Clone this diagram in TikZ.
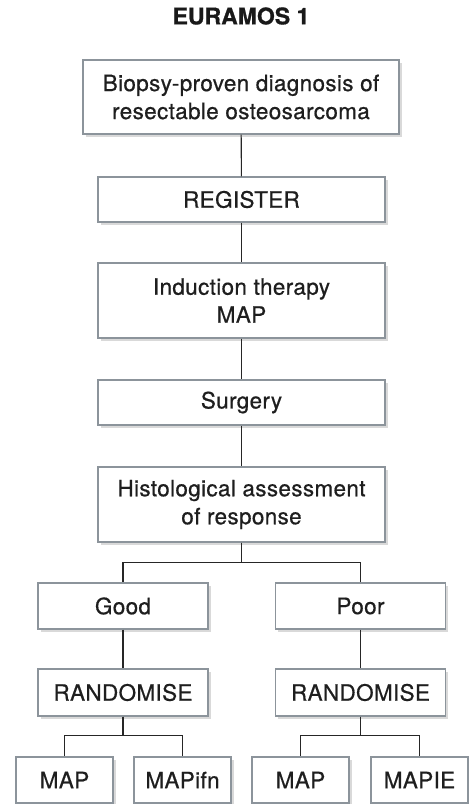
\documentclass[tikz,border=0pt]{standalone}
\usepackage{fontspec}
\setmainfont{TeX Gyre Heros}
\newfontfamily\boxfont[LetterSpace=1.5, FakeBold=0.6]{TeX Gyre Heros}
\newfontfamily\headfont[FakeBold=0.8]{TeX Gyre Heros}
\usepackage{xcolor}
\usepackage{tikz}
\usetikzlibrary{positioning, shadows}

\definecolor{boxgray}{RGB}{140,148,155}
\definecolor{inkgray}{RGB}{30,30,30}

\begin{document}
\begin{tikzpicture}[
    x=1pt, y=-1pt,
    font=\boxfont\fontsize{22.5}{28}\selectfont,
    box/.style={draw=boxgray, fill=white, line width=1.3pt, align=center, inner sep=0pt, text=inkgray, minimum width=#1, drop shadow={opacity=0.3, shadow xshift=2.5pt, shadow yshift=-3pt}},
    box/.default=287pt,
    link/.style={line width=1.1pt, color=black!85},
    title/.style={font=\headfont\fontsize{23}{28}\selectfont\bfseries, text=black!90}
]
\useasboundingbox (0,0) rectangle (469,804);

% === TITLE ===
\node[title] (head) at (241,16) {EURAMOS 1};

% === MAIN COLUMN ===
\node[box=316pt, minimum height=74pt] (biopsy) at (241,97) {Biopsy-proven diagnosis of\\resectable osteosarcoma};
\node[box, minimum height=45pt] (register) at (241.5,199.5) {REGISTER};
\node[box, minimum height=75pt] (induction) at (241.5,300.5) {Induction therapy\\MAP};
\node[box, minimum height=45pt] (surgery) at (241.5,402.5) {Surgery};
\node[box, minimum height=75pt] (histo) at (241.5,504.5) {Histological assessment\\of response};

% === RESPONSE ARMS ===
\node[box=170pt, minimum height=46pt] (good) at (123,606) {Good};
\node[box=170pt, minimum height=46pt] (poor) at (360.5,606) {Poor};
\node[box=170pt, minimum height=47pt] (randgood) at (123,692.5) {RANDOMISE};
\node[box=170pt, minimum height=47pt] (randpoor) at (360.5,692.5) {RANDOMISE};

% === TREATMENT ARMS ===
\node[box=97pt, minimum height=46pt] (mapgood) at (64.5,780) {MAP};
\node[box=97pt, minimum height=46pt] (mapifn) at (182.5,780) {MAPifn};
\node[box=97pt, minimum height=46pt] (mappoor) at (300.5,780) {MAP};
\node[box=97pt, minimum height=46pt] (mapie) at (419.5,780) {MAPIE};

% === CONNECTORS ===
\draw[link] (biopsy) -- (register);
\draw[link] (register) -- (induction);
\draw[link] (induction) -- (surgery);
\draw[link] (surgery) -- (histo);

\draw[link] (histo.south) -- ++(0,20) -| (good.north);
\draw[link] (histo.south) -- ++(0,20) -| (poor.north);

\draw[link] (good) -- (randgood);
\draw[link] (poor) -- (randpoor);

\draw[link] (randgood.south) -- ++(0,19) -| (mapgood.north);
\draw[link] (randgood.south) -- ++(0,19) -| (mapifn.north);
\draw[link] (randpoor.south) -- ++(0,19) -| (mappoor.north);
\draw[link] (randpoor.south) -- ++(0,19) -| (mapie.north);

\end{tikzpicture}
\end{document}
